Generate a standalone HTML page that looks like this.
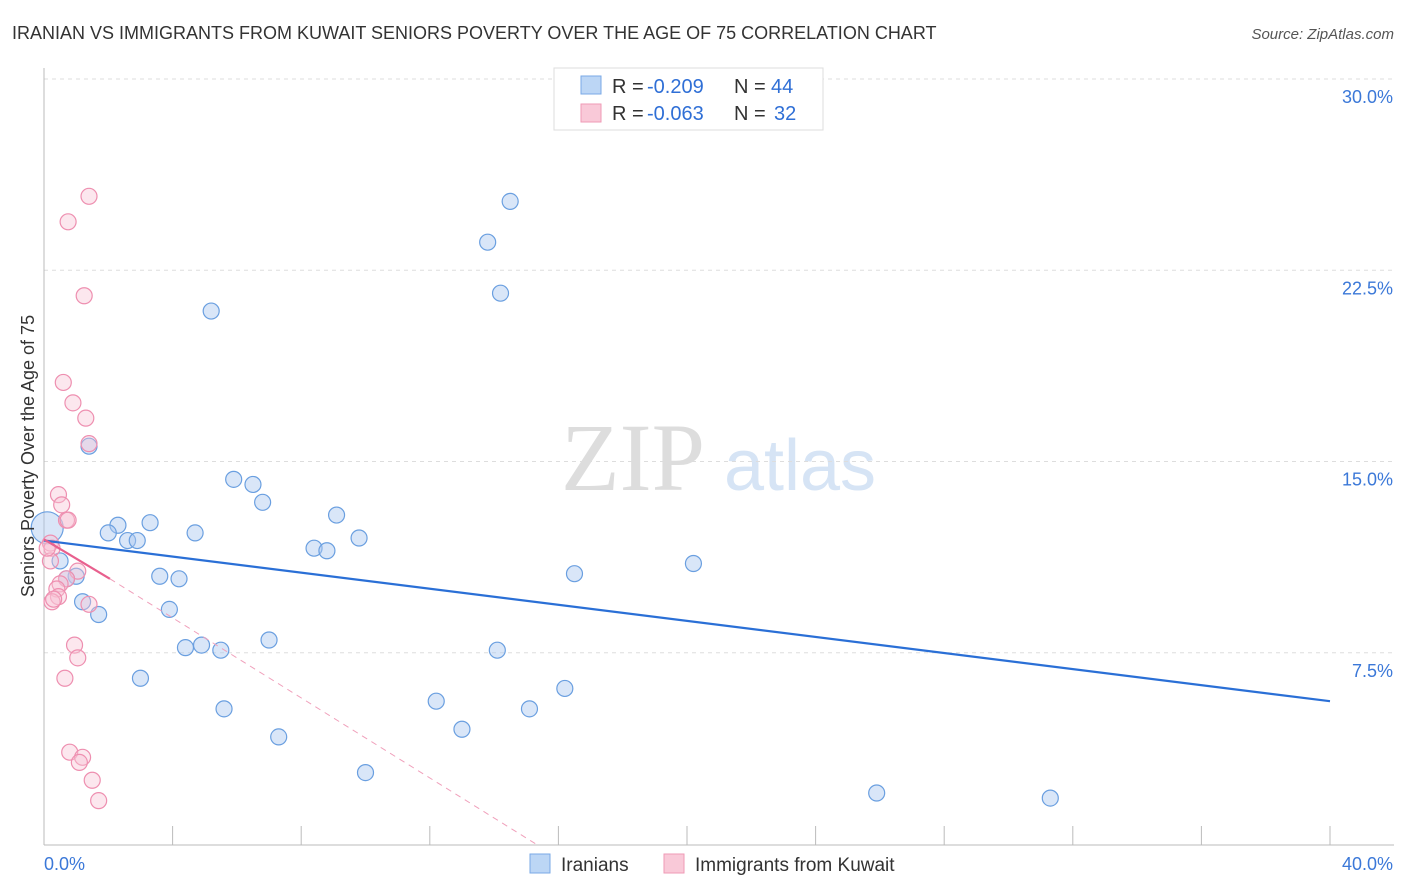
<!DOCTYPE html>
<html><head><meta charset="utf-8"><style>
body{margin:0;background:#fff;font-family:"Liberation Sans",sans-serif;}
svg{display:block}
</style></head><body>
<svg id="chart" width="1406" height="892" xmlns="http://www.w3.org/2000/svg">
<text x="12" y="39" font-size="18" fill="#333">IRANIAN VS IMMIGRANTS FROM KUWAIT SENIORS POVERTY OVER THE AGE OF 75 CORRELATION CHART</text>
<text x="1394" y="39" font-size="15" fill="#555" font-style="italic" text-anchor="end">Source: ZipAtlas.com</text>
<text x="633" y="490" font-size="96" fill="#ddd" font-family="Liberation Serif" text-anchor="middle">ZIP</text>
<text x="800" y="490" font-size="72" fill="#d6e4f5" text-anchor="middle">atlas</text>
<g id="grid"></g>
<g id="axes"></g>
<g id="marks"></g>
<text transform="translate(34,456) rotate(-90)" font-size="18" fill="#333" text-anchor="middle">Seniors Poverty Over the Age of 75</text>
<g>
<rect x="554" y="68" width="269" height="62" fill="#fff" stroke="#ddd"/>
<rect x="581" y="76" width="20" height="18" fill="#bcd6f5" stroke="#7aa8e6"/>
<rect x="581" y="104" width="20" height="18" fill="#f9c9d8" stroke="#ef9ab6"/>
<text x="612" y="93" font-size="20" fill="#333">R =</text>
<text x="647" y="93" font-size="20" fill="#2f6fd6">-0.209</text>
<text x="734" y="93" font-size="20" fill="#333">N =</text>
<text x="771" y="93" font-size="20" fill="#2f6fd6">44</text>
<text x="612" y="120" font-size="20" fill="#333">R =</text>
<text x="647" y="120" font-size="20" fill="#2f6fd6">-0.063</text>
<text x="734" y="120" font-size="20" fill="#333">N =</text>
<text x="774" y="120" font-size="20" fill="#2f6fd6">32</text>
</g>
<g>
<rect x="530" y="854" width="20" height="19" fill="#bcd6f5" stroke="#7aa8e6"/>
<text x="561" y="871" font-size="19" fill="#333">Iranians</text>
<rect x="664" y="854" width="20" height="19" fill="#f9c9d8" stroke="#ef9ab6"/>
<text x="695" y="871" font-size="19" fill="#333">Immigrants from Kuwait</text>
</g>
</svg>
<script>
const blueX=[14.5,13.8,14.2,5.2,1.4,5.9,6.5,6.8,2.3,3.3,2.0,4.7,2.6,2.9,9.1,9.8,8.4,8.8,0.5,1.0,3.6,4.2,16.5,20.2,1.2,1.7,3.9,7.0,4.4,4.9,5.5,14.1,3.0,16.2,12.2,5.6,15.1,13.0,7.3,10.0,25.9,31.3,0.7];
const blueY=[25.2,23.6,21.6,20.9,15.6,14.3,14.1,13.4,12.5,12.6,12.2,12.2,11.9,11.9,12.9,12.0,11.6,11.5,11.1,10.5,10.5,10.4,10.6,11.0,9.5,9.0,9.2,8.0,7.7,7.8,7.6,7.6,6.5,6.1,5.6,5.3,5.3,4.5,4.2,2.8,2.0,1.8,10.4];
const pinkX=[1.4,0.75,1.25,0.6,0.9,1.3,1.4,0.45,0.55,0.7,0.2,0.25,0.2,1.05,0.7,0.5,0.4,0.45,0.25,1.4,0.95,1.05,0.65,0.8,1.2,1.1,1.5,1.7,0.3,0.75,0.1];
const pinkY=[25.4,24.4,21.5,18.1,17.3,16.7,15.7,13.7,13.3,12.7,11.8,11.6,11.1,10.7,10.4,10.2,10.0,9.7,9.5,9.4,7.8,7.3,6.5,3.6,3.4,3.2,2.5,1.7,9.6,12.7,11.6];
const bigX=[0.1], bigY=[12.4];
const blueTrend=[[0,11.9],[40,5.6]];
const pinkSolid=[[0,11.95],[2.05,10.4]];
const pinkDash=[[2.05,10.4],[15.3,0]];
const yTicks=[7.5,15,22.5,30];
const yTickLabels=["7.5%","15.0%","22.5%","30.0%"];
const xTicks=[0,4,8,12,16,20,24,28,32,36,40];
const xs=v=>44+v/40*1286, ys=v=>844-v*25.5;
const NS="http://www.w3.org/2000/svg";
function mk(p,t,a){const e=document.createElementNS(NS,t);for(const k in a)e.setAttribute(k,a[k]);p.appendChild(e);return e;}
const grid=document.getElementById('grid'),axes=document.getElementById('axes'),marks=document.getElementById('marks');
yTicks.forEach((t,i)=>{
 const l=mk(grid,'line',{x1:44,x2:1394,y1:ys(t),y2:ys(t),stroke:'#ddd','stroke-dasharray':'4,4'});
 
 
 const tx=mk(axes,'text',{x:1393,y:ys(t)+24,'font-size':18,fill:'#3b78d8','text-anchor':'end'});tx.textContent=yTickLabels[i];
 
 
});
mk(axes,'line',{x1:44,x2:44,y1:68,y2:845,stroke:'#bbb'});
mk(axes,'line',{x1:44,x2:1394,y1:845,y2:845,stroke:'#bbb'});
xTicks.forEach(t=>{const l=mk(axes,'line',{x1:xs(t),x2:xs(t),y1:826,y2:845,stroke:'#bbb'});
 
 });
let a=mk(axes,'text',{x:44,y:870,'font-size':18,fill:'#3b78d8'});a.textContent='0.0%';


a=mk(axes,'text',{x:1393,y:870,'font-size':18,fill:'#3b78d8','text-anchor':'end'});a.textContent='40.0%';


blueX.forEach((x,i)=>{const c=mk(marks,'circle',{cx:xs(x),cy:ys(blueY[i]),r:8,fill:'rgba(170,200,240,0.45)',stroke:'#6a9fe0','stroke-width':1.2});
 
 });
bigX.forEach((x,i)=>{const c=mk(marks,'circle',{cx:xs(x),cy:ys(bigY[i]),r:16,fill:'rgba(170,200,240,0.45)',stroke:'#6a9fe0','stroke-width':1.2});
 
 });
pinkX.forEach((x,i)=>{const c=mk(marks,'circle',{cx:xs(x),cy:ys(pinkY[i]),r:8,fill:'rgba(248,195,212,0.4)',stroke:'#ee8fb0','stroke-width':1.2});
 
 });
let t=mk(marks,'line',{x1:xs(blueTrend[0][0]),y1:ys(blueTrend[0][1]),x2:xs(blueTrend[1][0]),y2:ys(blueTrend[1][1]),stroke:'#2a6fd6','stroke-width':2.2});


t=mk(marks,'line',{x1:xs(pinkSolid[0][0]),y1:ys(pinkSolid[0][1]),x2:xs(pinkSolid[1][0]),y2:ys(pinkSolid[1][1]),stroke:'#e8608e','stroke-width':2.2});


t=mk(marks,'line',{x1:xs(pinkDash[0][0]),y1:ys(pinkDash[0][1]),x2:xs(pinkDash[1][0]),y2:ys(pinkDash[1][1]),stroke:'#f0a0bb','stroke-width':1,'stroke-dasharray':'6,5'});


</script>
</body></html>
